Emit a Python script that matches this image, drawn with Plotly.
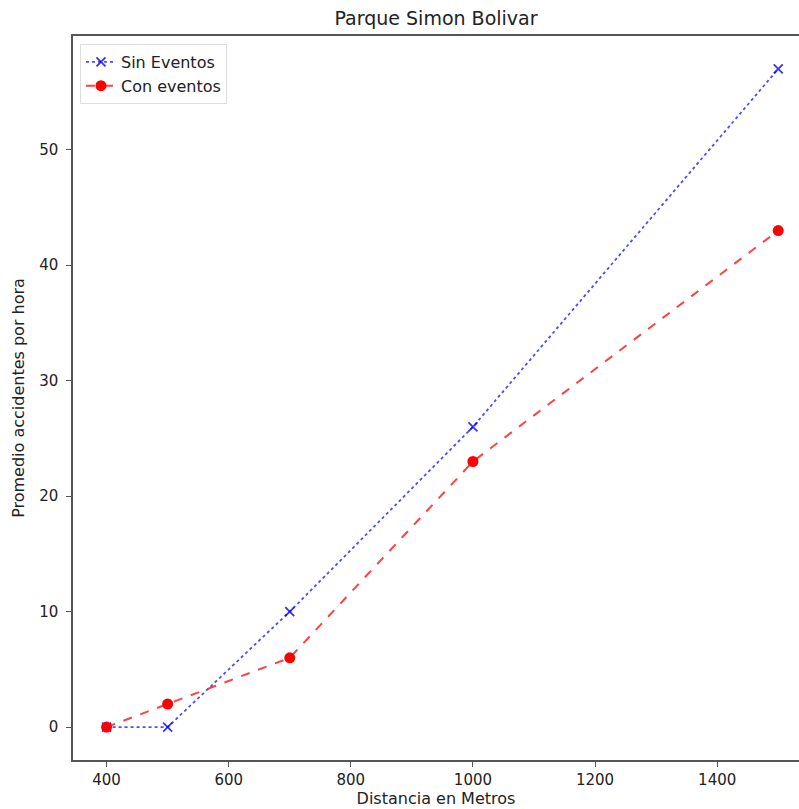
import plotly.graph_objects as go

distancias = [400, 500, 700, 1000, 1500]
sin_eventos = [0, 0, 10, 26, 57]
con_eventos = [0, 2, 6, 23, 43]
y_ticks = [0, 10, 20, 30, 40, 50]
x_ticks = [400, 600, 800, 1000, 1200, 1400]

fig = go.Figure()
fig.add_trace(go.Scatter(
    x=distancias, y=sin_eventos, name="Sin Eventos", mode="lines+markers",
    line=dict(color="rgba(0,0,255,0.7)", dash="dot", width=1.8),
    marker=dict(symbol="x-thin", size=9, line=dict(color="rgba(0,0,255,0.8)", width=1.8), color="blue"),
))
fig.add_trace(go.Scatter(
    x=distancias, y=con_eventos, name="Con eventos", mode="lines+markers",
    line=dict(color="rgba(255,0,0,0.75)", dash="dash", width=2),
    marker=dict(symbol="circle", size=11, color="red"),
))

font = "DejaVu Sans, sans-serif"
fig.update_layout(
    width=799, height=809,
    margin=dict(l=73, r=0, t=36, b=49),
    paper_bgcolor="white", plot_bgcolor="white",
    font=dict(family=font, size=15, color="#222"),
    title=dict(text="Parque Simon Bolivar", x=0.5, xref="paper", xanchor="center",
               y=1 - 18 / 809, yanchor="middle", font=dict(size=19, color="#222")),
    xaxis=dict(range=[345, 1534], tickvals=x_ticks, ticktext=[str(v) for v in x_ticks],
               showgrid=False, zeroline=False, showline=True, linecolor="#555", linewidth=1.5,
               mirror=True, ticks="outside", ticklen=5, tickcolor="#555", tickwidth=1.2,
               tickfont=dict(size=15),
               title=dict(text="Distancia en Metros", standoff=4, font=dict(size=16))),
    yaxis=dict(range=[-2.85, 59.85], tickvals=y_ticks, ticktext=[str(v) for v in y_ticks],
               showgrid=False, zeroline=False, showline=True, linecolor="#555", linewidth=1.5,
               mirror=False, ticks="outside", ticklen=5, tickcolor="#555", tickwidth=1.2,
               tickfont=dict(size=15), ticklabelstandoff=5,
               title=dict(text="Promedio accidentes por hora", standoff=11, font=dict(size=16))),
    legend=dict(x=0.0096, y=0.989, xanchor="left", yanchor="top",
                bgcolor="rgba(255,255,255,0.8)", bordercolor="#ddd", borderwidth=1,
                font=dict(size=16)),
    showlegend=True,
)

fig.write_html("out.html")
